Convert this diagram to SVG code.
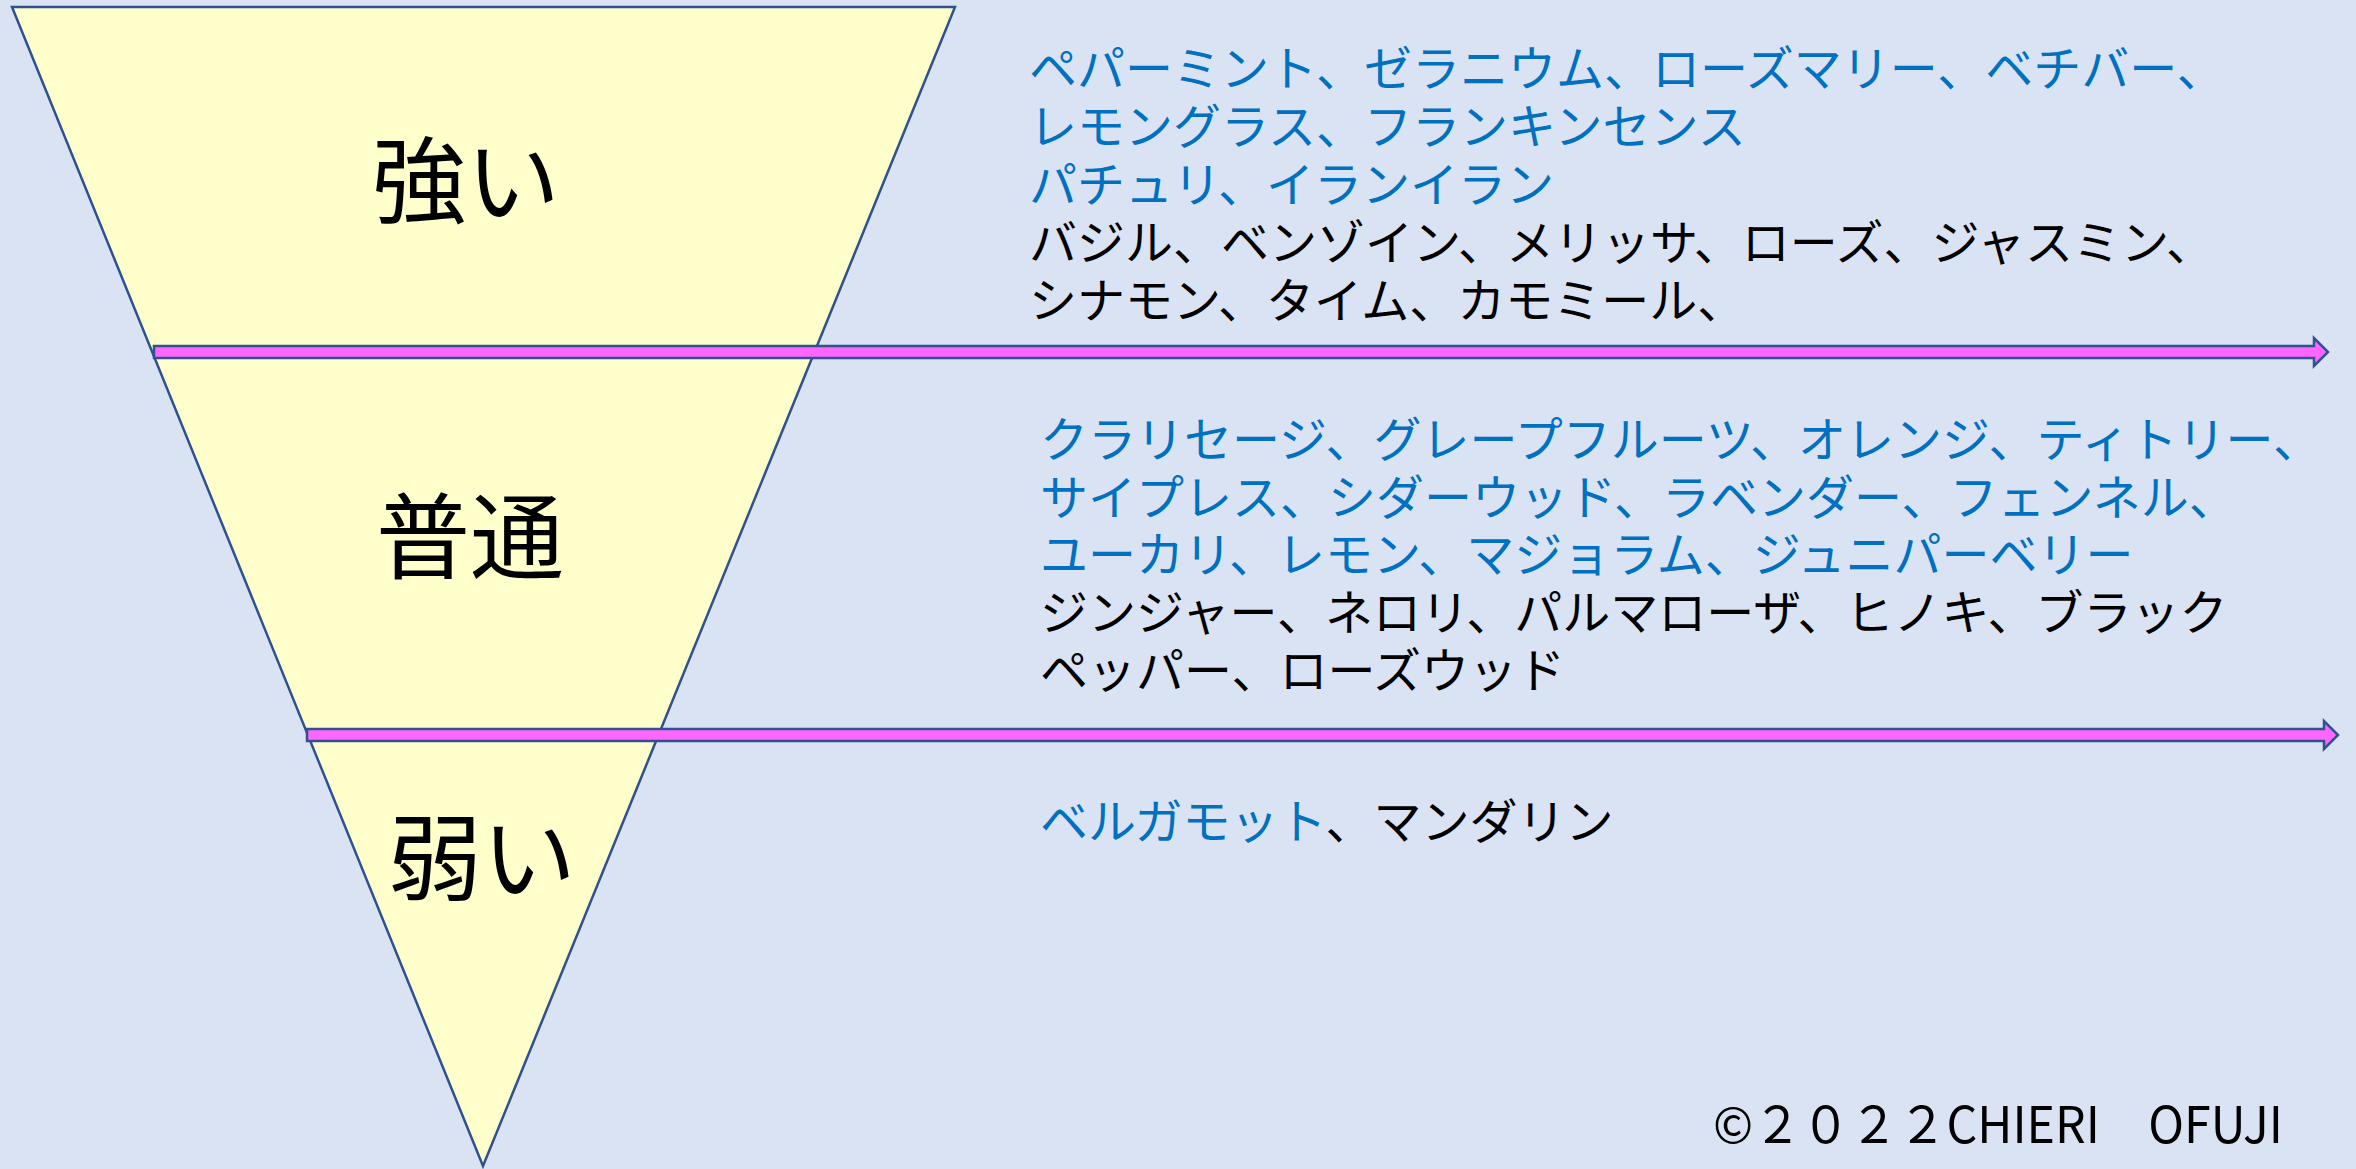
<svg xmlns="http://www.w3.org/2000/svg" width="2356" height="1169" viewBox="0 0 2356 1169">
<style>
.jp{font-family:"Noto Sans CJK JP","Noto Sans",sans-serif;}
.big{font-size:94px;fill:#000;text-anchor:middle;}
.list{font-size:48px;}
.blue{fill:#0070C0;}
.blk{fill:#000;}
.arrow{fill:#FF66FF;stroke:#2F528F;stroke-width:2.5;stroke-linejoin:miter;}
</style>
<rect x="0" y="0" width="2356" height="1169" fill="#DAE3F3"/>
<g id="pyramid">
<polygon points="12,7 955,7 483,1166" fill="#FFFFCC" stroke="#2F528F" stroke-width="2.5"/>
</g>
<g id="label-strong"><text class="jp big" x="466" y="216">強い</text></g>
<g id="label-normal"><text class="jp big" x="470" y="572">普通</text></g>
<g id="label-weak"><text class="jp big" x="482" y="893">弱い</text></g>
<g id="list-strong" class="jp list">
<text class="blue" x="1029" y="86">ペパーミント、ゼラニウム、ローズマリー、ベチバー、</text>
<text class="blue" x="1029" y="144">レモングラス、フランキンセンス</text>
<text class="blue" x="1029" y="202">パチュリ、イランイラン</text>
<text class="blk" x="1029" y="260">バジル、ベンゾイン、メリッサ、ローズ、ジャスミン、</text>
<text class="blk" x="1029" y="318">シナモン、タイム、カモミール、</text>
</g>
<g id="list-normal" class="jp list">
<text class="blue" x="1040" y="457">クラリセージ、グレープフルーツ、オレンジ、ティトリー、</text>
<text class="blue" x="1040" y="515">サイプレス、シダーウッド、ラベンダー、フェンネル、</text>
<text class="blue" x="1040" y="572">ユーカリ、レモン、マジョラム、ジュニパーベリー</text>
<text class="blk" x="1040" y="630">ジンジャー、ネロリ、パルマローザ、ヒノキ、ブラック</text>
<text class="blk" x="1040" y="688">ペッパー、ローズウッド</text>
</g>
<g id="list-weak" class="jp list">
<text x="1040" y="839"><tspan class="blue">ベルガモット</tspan><tspan class="blk">、マンダリン</tspan></text>
</g>
<g id="connectors">
<polygon class="arrow" points="154,346 2314,346 2314,338 2328,352 2314,366 2314,358 154,358"/>
<polygon class="arrow" points="307,729 2324,729 2324,721 2338,735 2324,749 2324,741 307,741"/>
</g>
<g id="copyright">
<text class="jp" x="1713" y="1143" font-size="50" fill="#000" textLength="570" lengthAdjust="spacingAndGlyphs">©２０２２CHIERI　OFUJI</text>
</g>
</svg>
